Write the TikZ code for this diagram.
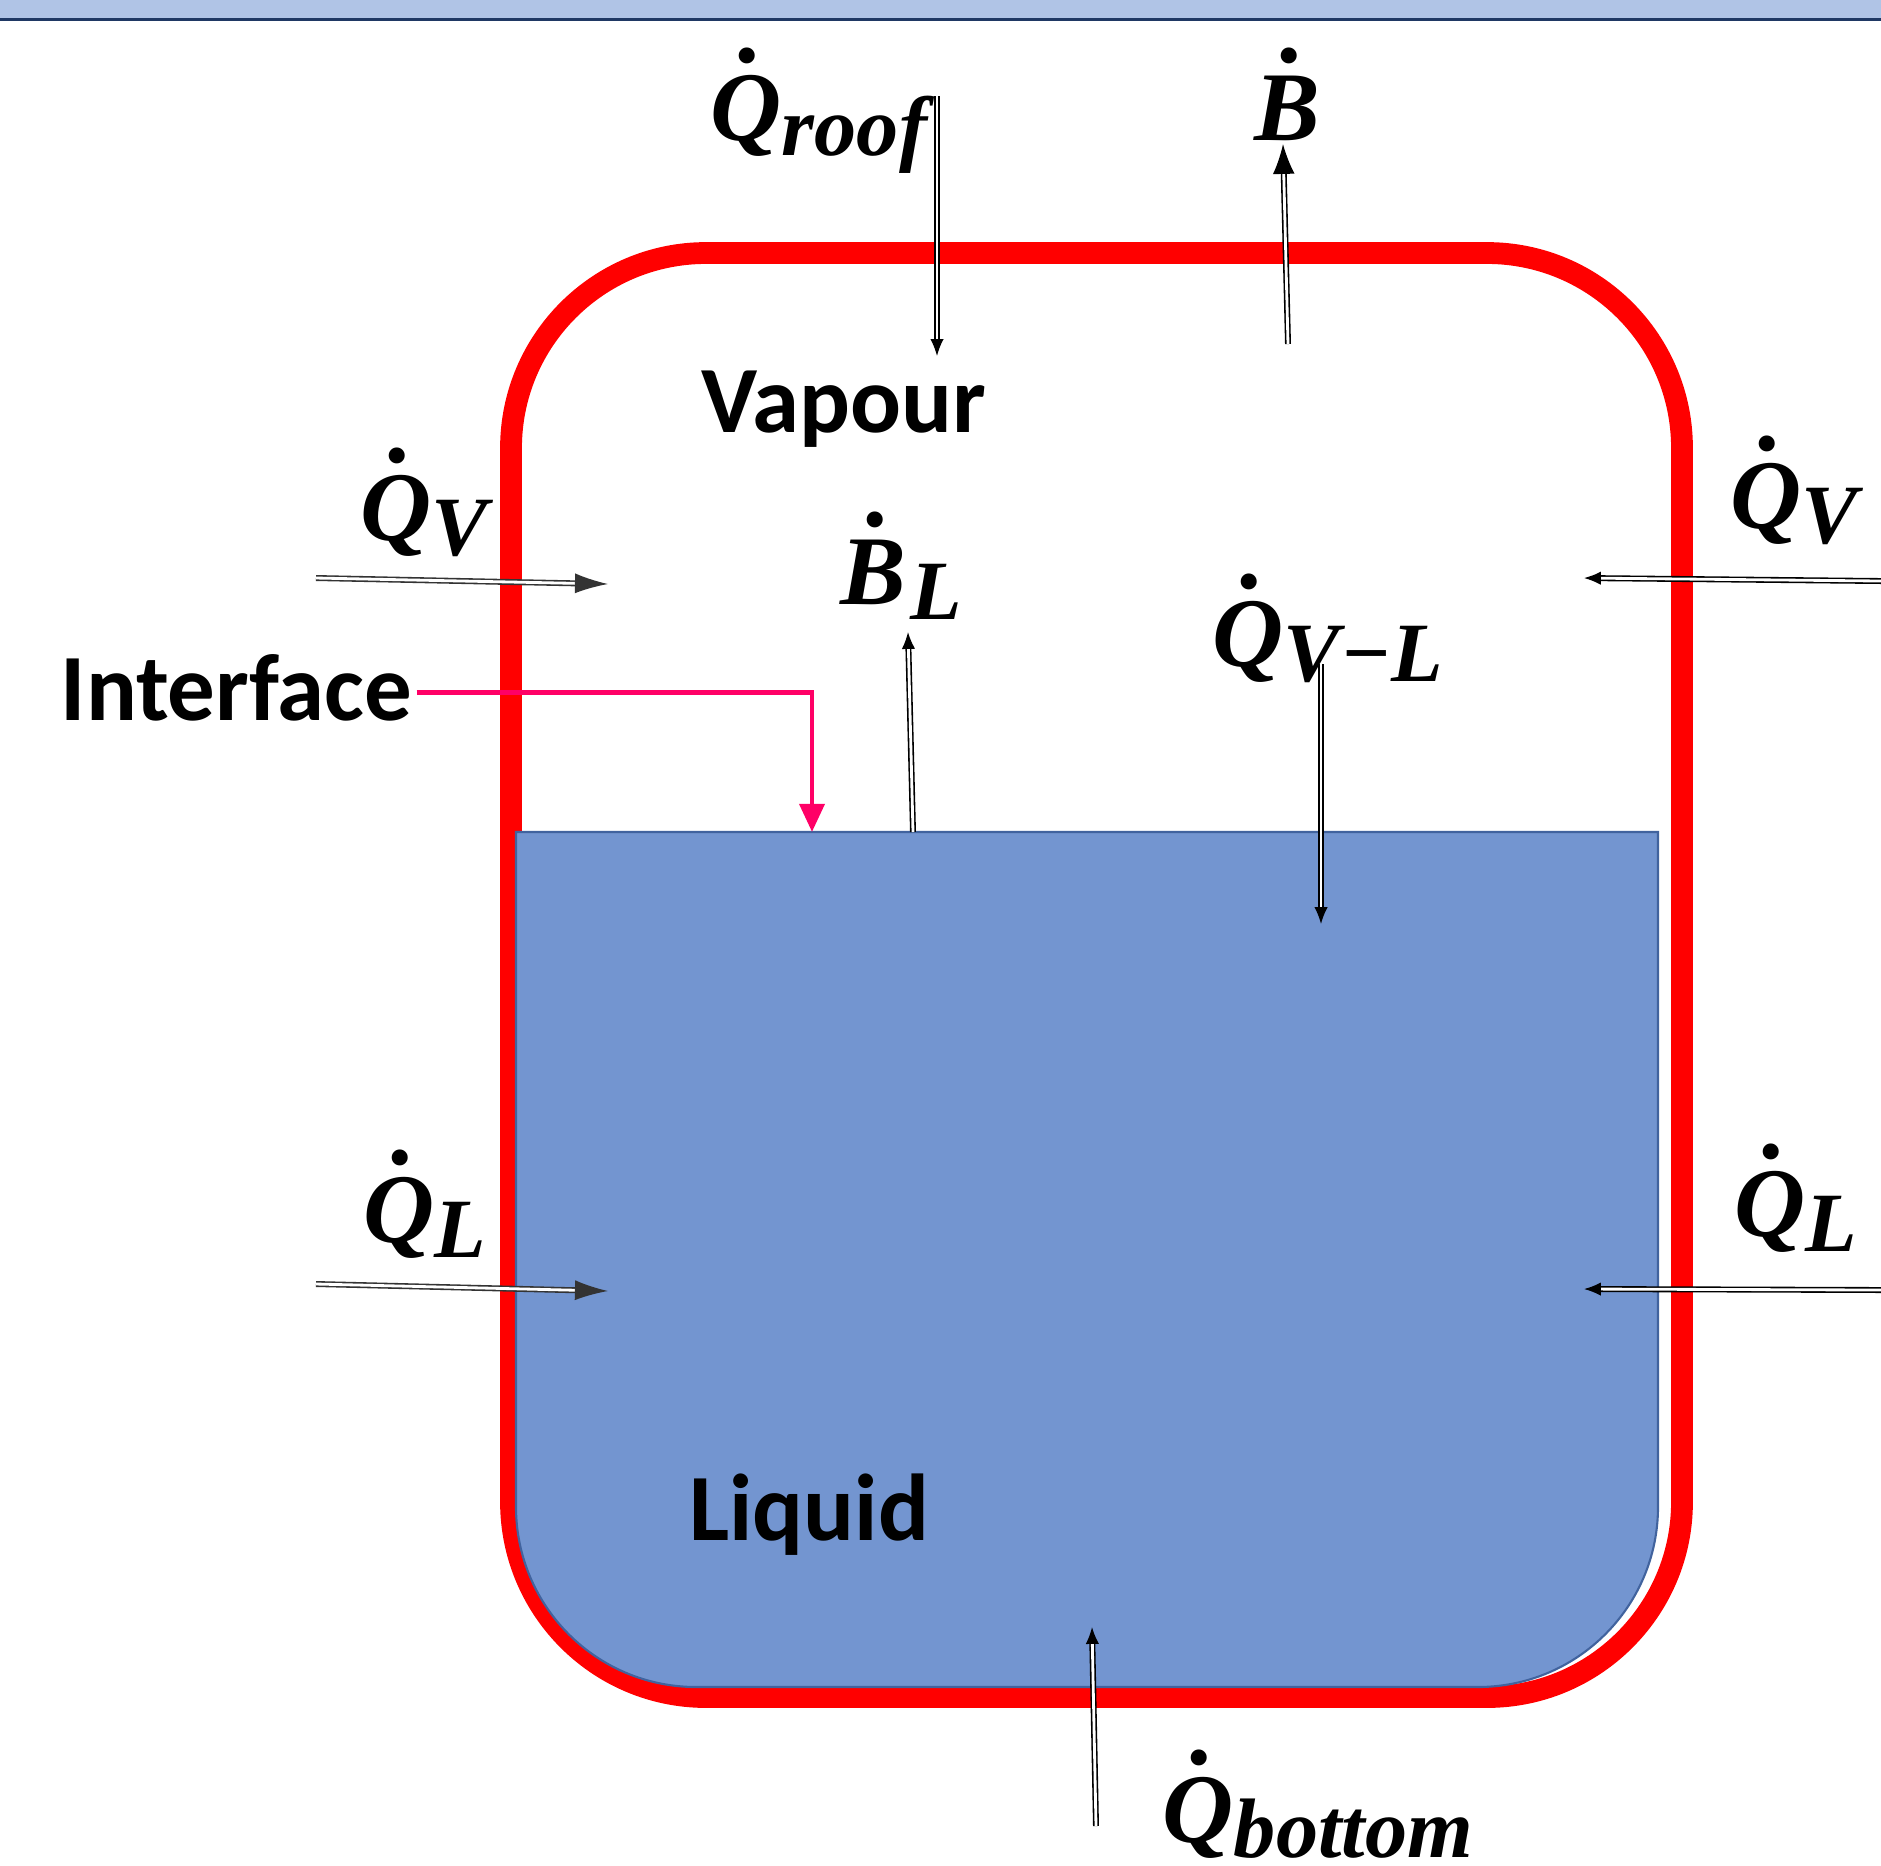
\documentclass[tikz,border=0pt]{standalone}
\usepackage{fontspec}
\setsansfont{Carlito}
\newfontfamily\fluxfont{Liberation Serif}
\usetikzlibrary{arrows.meta}
\definecolor{tankred}{HTML}{FF0000}
\definecolor{liqfill}{HTML}{7395D0}
\definecolor{liqedge}{HTML}{41639E}
\definecolor{banner}{HTML}{B0C4E6}
\definecolor{bannerline}{HTML}{1F3864}
\definecolor{ptrpink}{HTML}{FF0066}
\definecolor{flowgray}{HTML}{333333}
% dotted symbol with a lowered subscript
\newcommand\fdot[1]{\leavevmode\setbox0\hbox{#1}%
  \rlap{\hbox to\wd0{\hss\raisebox{0.79em}{\kern0.1em.}\hss}}\box0}
\newcommand\flux[2]{\fdot{#1}\raisebox{-0.16em}{\fontsize{24}{24}\selectfont #2}}

\begin{document}
\begin{tikzpicture}[x=0.01cm, y=-0.01cm,
  wall/.style={draw=tankred, line width=6.2pt, rounded corners=1.95cm},
  liquid/.style={fill=liqfill, draw=liqedge, line width=0.6pt},
  word/.style={font=\fontsize{27}{32}\selectfont\sffamily\bfseries, inner sep=0pt},
  fluxlbl/.style={font=\fontsize{28}{32}\selectfont\fluxfont\bfseries\itshape,
                  inner sep=0pt, anchor=base west},
  flow/.style={double, double distance=0.8pt, line width=0.45pt,
               -{Latex[length=4.8pt, width=3.8pt]}},
  bigflow/.style={flow, -{Latex[length=8.5pt, width=6.2pt]}},
  sideflow/.style={flow, draw=flowgray, -{Latex[length=9.4pt, width=5.7pt]}},
  pointer/.style={draw=ptrpink, line width=1.4pt, -{Triangle[length=8pt, width=7pt]}}]

  \useasboundingbox (0,0) rectangle (1881,1865);

  % banner
  \fill[banner] (0,0) rectangle (1881,18);
  \draw[bannerline, line width=0.9pt] (0,19.5) -- (1881,19.5);

  % tank and liquid
  \draw[wall] (511,253) rectangle (1682,1697);
  \draw[liquid] (516,832) -- (1658,832) [rounded corners=1.8cm] -- (1658,1687)
    -- (516,1687) [sharp corners] -- cycle;

  % words
  \node[word, anchor=base] (vapour) at (844,432) {Vapour};
  \node[word, anchor=base] (liquid) at (809,1540) {Liquid};
  \node[word, anchor=base west] (interface) at (60,720) {Interface};

  % flux labels
  \node[fluxlbl] (qroof) at (710,140) {\flux{Q}{roof}};
  \node[fluxlbl] (bdot) at (1254,140) {\flux{B}{}};
  \node[fluxlbl] (qvleft) at (360,540) {\flux{Q}{V}};
  \node[fluxlbl] (qvright) at (1730,528) {\flux{Q}{V}};
  \node[fluxlbl] (bl) at (840,604) {\flux{B}{\kern0.05em L}};
  \node[fluxlbl] (qvl) at (1212,666) {\flux{Q}{V−L}};
  \node[fluxlbl] (qlleft) at (363,1242) {\flux{Q}{L}};
  \node[fluxlbl] (qlright) at (1734,1236) {\flux{Q}{L}};
  \node[fluxlbl] (qbottom) at (1162,1842) {\flux{Q}{bottom}};

  % arrow ends
  \coordinate (roofS) at (937,96);    \coordinate (roofE) at (937,356);
  \coordinate (bS) at (1288,344);     \coordinate (bE) at (1283,144);
  \coordinate (qvlS) at (316,578);    \coordinate (qvlE) at (608,584);
  \coordinate (qvrS) at (1881,581);   \coordinate (qvrE) at (1584,578);
  \coordinate (blS) at (913,832);     \coordinate (blE) at (908,632);
  \coordinate (vlS) at (1321,664);    \coordinate (vlE) at (1321,924);
  \coordinate (qllS) at (316,1284);   \coordinate (qllE) at (608,1291);
  \coordinate (qlrS) at (1881,1290);  \coordinate (qlrE) at (1584,1289);
  \coordinate (botS) at (1096,1826);  \coordinate (botE) at (1092,1627);
  \coordinate (ifc) at (812,832);

  % flows
  \draw[flow] (roofS) -- (roofE);
  \draw[bigflow] (bS) -- (bE);
  \draw[sideflow] (qvlS) -- (qvlE);
  \draw[flow] (qvrS) -- (qvrE);
  \draw[flow] (blS) -- (blE);
  \draw[flow] (vlS) -- (vlE);
  \draw[sideflow] (qllS) -- (qllE);
  \draw[flow] (qlrS) -- (qlrE);
  \draw[flow] (botS) -- (botE);
  \draw[pointer] ([xshift=1pt, yshift=-1.5pt]interface.east) -| (ifc);
\end{tikzpicture}
\end{document}
